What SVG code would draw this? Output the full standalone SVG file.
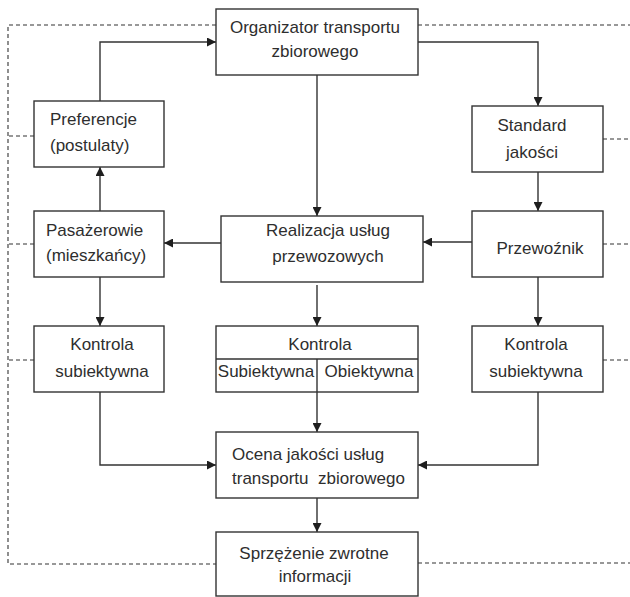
<svg xmlns="http://www.w3.org/2000/svg" width="630" height="597" viewBox="0 0 630 597">
<style>
.box{fill:#fff;stroke:#333;stroke-width:1.4}
.ln{fill:none;stroke:#333;stroke-width:1.4}
.ar{fill:none;stroke:#333;stroke-width:1.4;marker-end:url(#ah)}
.ds{fill:none;stroke:#333;stroke-width:1.1;stroke-dasharray:4 3}
text{font-family:"Liberation Sans",Arial,sans-serif;font-size:17px;fill:#2e2e2e}
.c{text-anchor:middle}
</style>
<defs>
<marker id="ah" viewBox="0 0 10 10" refX="10" refY="5" markerWidth="9" markerHeight="9" markerUnits="userSpaceOnUse" orient="auto">
<path d="M0,0 L10,5 L0,10 z" fill="#1e1e1e"/>
</marker>
</defs>
<g id="connectors">
<path class="ds" d="M216,25 H8 V564 H216"/>
<path class="ds" d="M34,136 H8"/>
<path class="ds" d="M34,244 H8"/>
<path class="ds" d="M34,360 H8"/>
<path class="ds" d="M418,25 H630"/>
<path class="ds" d="M603,139 H630"/>
<path class="ds" d="M603,244 H630"/>
<path class="ds" d="M603,360 H630"/>
<path class="ds" d="M418,563 H630"/>
<path class="ar" d="M100,101 V42 H216"/>
<path class="ar" d="M418,42 H538 V106"/>
<path class="ar" d="M317,75 V216"/>
<path class="ar" d="M100,211 V167"/>
<path class="ar" d="M221,243 H164"/>
<path class="ar" d="M472,242 H423"/>
<path class="ar" d="M538,172 V211"/>
<path class="ar" d="M100,277 V326"/>
<path class="ar" d="M317,285 V326"/>
<path class="ar" d="M538,277 V326"/>
<path class="ar" d="M100,392 V465 H216"/>
<path class="ar" d="M538,392 V465 H418"/>
<path class="ar" d="M317,392 V432"/>
<path class="ar" d="M317,498 V532"/>
</g>
<g id="organizator">
<rect class="box" x="216" y="9" width="202" height="66"/>
<text class="c" x="315" y="33">Organizator transportu</text>
<text class="c" x="315" y="57">zbiorowego</text>
</g>
<g id="preferencje">
<rect class="box" x="34" y="101" width="130" height="66"/>
<text x="50" y="125">Preferencje</text>
<text x="50" y="151">(postulaty)</text>
</g>
<g id="standard">
<rect class="box" x="472" y="106" width="131" height="66"/>
<text class="c" x="532" y="131">Standard</text>
<text class="c" x="532" y="158">jakości</text>
</g>
<g id="pasazerowie">
<rect class="box" x="34" y="211" width="130" height="66"/>
<text x="46" y="236">Pasażerowie</text>
<text x="46" y="261">(mieszkańcy)</text>
</g>
<g id="realizacja">
<rect class="box" x="221" y="216" width="202" height="66"/>
<text class="c" x="328" y="236">Realizacja usług</text>
<text class="c" x="328" y="262">przewozowych</text>
</g>
<g id="przewoznik">
<rect class="box" x="472" y="211" width="131" height="66"/>
<text class="c" x="540" y="254">Przewoźnik</text>
</g>
<g id="kontrola-lewa">
<rect class="box" x="34" y="326" width="130" height="66"/>
<text class="c" x="102" y="350">Kontrola</text>
<text class="c" x="102" y="377">subiektywna</text>
</g>
<g id="kontrola-srodek">
<rect class="box" x="216" y="326" width="202" height="66"/>
<path class="ln" d="M216,359 H418 M317,359 V392"/>
<text class="c" x="320" y="350">Kontrola</text>
<text class="c" x="266" y="377">Subiektywna</text>
<text class="c" x="369" y="377">Obiektywna</text>
</g>
<g id="kontrola-prawa">
<rect class="box" x="472" y="326" width="131" height="66"/>
<text class="c" x="536" y="350">Kontrola</text>
<text class="c" x="536" y="377">subiektywna</text>
</g>
<g id="ocena">
<rect class="box" x="216" y="432" width="202" height="66"/>
<text x="232" y="460">Ocena jakości usług</text>
<text x="232" y="484" xml:space="preserve">transportu  zbiorowego</text>
</g>
<g id="sprzezenie">
<rect class="box" x="216" y="532" width="202" height="64"/>
<text class="c" x="314" y="559">Sprzężenie zwrotne</text>
<text class="c" x="315" y="582">informacji</text>
</g>
</svg>
